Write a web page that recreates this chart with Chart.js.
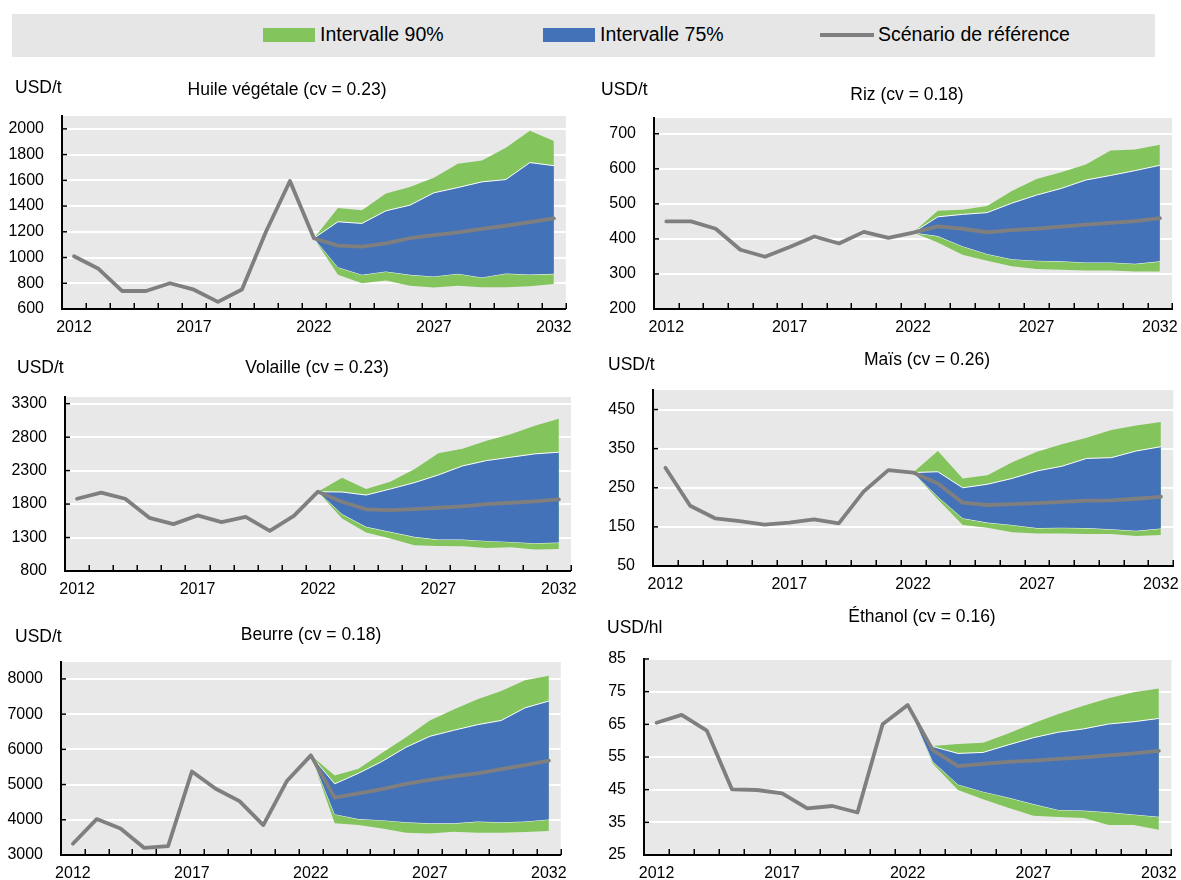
<!DOCTYPE html>
<html><head><meta charset="utf-8">
<script src="https://cdn.jsdelivr.net/npm/chart.js@4.4.0/dist/chart.umd.min.js"></script>
<style>
html,body{margin:0;padding:0;background:#fff;}
body{width:1181px;height:880px;position:relative;overflow:hidden;font-family:'Liberation Sans',Arial,sans-serif;}
.t{position:absolute;white-space:nowrap;color:#000;line-height:1;}
canvas{position:absolute;}
#legend{position:absolute;left:12px;top:14px;width:1143px;height:43px;background:#e6e6e6;}
.sw{position:absolute;}
</style></head><body>
<div id="legend">
  <div class="sw" style="left:251px;top:14px;width:52px;height:14px;background:#84c45c"></div>
  <div class="t" style="left:308px;top:21px;transform:translateY(-50%);font-size:19.5px">Intervalle 90%</div>
  <div class="sw" style="left:531px;top:14px;width:52px;height:14px;background:#4472b8"></div>
  <div class="t" style="left:588px;top:21px;transform:translateY(-50%);font-size:19.5px">Intervalle 75%</div>
  <div class="sw" style="left:808px;top:19px;width:54px;height:4px;background:#7f7f7f"></div>
  <div class="t" style="left:866px;top:21px;transform:translateY(-50%);font-size:19.5px">Scénario de référence</div>
</div>
<script>
const FONT = "'Liberation Sans', Arial, sans-serif";
const GREEN = '#84c45c', BLUE = '#4472b8', GRAY = '#7f7f7f', PLOTBG = '#e8e8e8';

const years = ['2012','2013','2014','2015','2016','2017','2018','2019','2020','2021','2022',
               '2023','2024','2025','2026','2027','2028','2029','2030','2031','2032'];
const xTickLabels = ['2012','2017','2022','2027','2032'];
const hist = () => Array(10).fill(null); // no band before 2022

// Huile végétale
const huileBase = [1010, 915, 740, 740, 800, 750, 655, 752, 1200, 1595, 1150, 1093, 1085, 1110, 1150, 1175, 1196, 1222, 1247, 1275, 1304];
const huileU90 = [1150, 1385, 1368, 1497, 1549, 1621, 1729, 1755, 1853, 1985, 1906];
const huileU75 = [1150, 1278, 1265, 1363, 1407, 1503, 1544, 1588, 1606, 1738, 1714];
const huileL75 = [1150, 925, 866, 892, 866, 853, 874, 845, 876, 868, 873];
const huileL90 = [1150, 866, 801, 822, 781, 768, 781, 770, 770, 776, 795];
const huileTicks = [600, 800, 1000, 1200, 1400, 1600, 1800, 2000];

// Riz
const rizBase = [450, 450, 429, 369, 349, 377, 407, 387, 420, 403, 418, 436, 429, 419, 425, 429, 435, 441, 446, 451, 459];
const rizU90 = [418, 480, 483, 494, 537, 571, 590, 612, 652, 655, 669];
const rizU75 = [418, 463, 470, 475, 502, 525, 544, 568, 581, 595, 610];
const rizL75 = [418, 408, 379, 357, 342, 338, 336, 333, 333, 329, 336];
const rizL90 = [418, 390, 355, 338, 322, 314, 312, 310, 310, 307, 307];
const rizTicks = [200, 300, 400, 500, 600, 700];

// Volaille
const volBase = [1880, 1970, 1880, 1595, 1500, 1630, 1530, 1610, 1400, 1625, 1985, 1835, 1720, 1710, 1725, 1745, 1765, 1800, 1820, 1840, 1870];
const volU90 = [1985, 2195, 2025, 2135, 2320, 2560, 2625, 2745, 2845, 2970, 3075];
const volU75 = [1985, 1980, 1935, 2025, 2120, 2235, 2370, 2450, 2500, 2550, 2575];
const volL75 = [1985, 1650, 1460, 1385, 1310, 1270, 1270, 1250, 1235, 1215, 1225];
const volL90 = [1985, 1585, 1375, 1285, 1185, 1175, 1170, 1145, 1155, 1120, 1130];
const volTicks = [800, 1300, 1800, 2300, 2800, 3300];

// Maïs
const maisBase = [301, 204, 172, 165, 156, 161, 169, 159, 240, 295, 289, 261, 212, 206, 208, 211, 214, 217, 218, 222, 227];
const maisU90 = [289, 344, 274, 282, 315, 342, 361, 378, 398, 409, 418];
const maisU75 = [289, 291, 250, 259, 274, 293, 305, 325, 327, 344, 355];
const maisL75 = [289, 227, 172, 161, 155, 147, 148, 147, 144, 140, 146];
const maisL90 = [289, 220, 155, 148, 136, 133, 133, 132, 132, 127, 129];
const maisTicks = [50, 150, 250, 350, 450];

// Beurre
const beurreBase = [3320, 4020, 3750, 3200, 3250, 5370, 4880, 4530, 3850, 5110, 5830, 4630, 4750, 4870, 5020, 5130, 5230, 5320, 5440, 5550, 5680];
const beurreU90 = [5830, 5260, 5450, 5900, 6340, 6820, 7130, 7420, 7660, 7960, 8090];
const beurreU75 = [5830, 5020, 5320, 5660, 6060, 6370, 6540, 6700, 6820, 7180, 7370];
const beurreL75 = [5830, 4160, 4020, 3990, 3930, 3900, 3900, 3950, 3930, 3950, 4010];
const beurreL90 = [5830, 3900, 3850, 3750, 3630, 3610, 3660, 3630, 3630, 3650, 3680];
const beurreTicks = [3000, 4000, 5000, 6000, 7000, 8000];

// Éthanol
const ethBase = [65.5, 67.9, 63.1, 45.1, 44.9, 43.9, 39.3, 40.0, 38.0, 65.0, 70.9, 57.1, 52.2, 52.9, 53.5, 53.9, 54.4, 54.9, 55.5, 56.1, 56.9];
const ethU90 = [70.9, 58.4, 59.0, 59.4, 62.2, 65.3, 68.2, 70.7, 73.0, 74.8, 76.0];
const ethU75 = [70.9, 58.2, 56.1, 56.4, 58.7, 60.9, 62.6, 63.6, 65.1, 65.8, 66.8];
const ethL75 = [70.9, 53.6, 46.6, 44.4, 42.6, 40.6, 38.8, 38.6, 38.1, 37.4, 36.7];
const ethL90 = [70.9, 52.9, 44.9, 42.1, 39.5, 37.0, 36.6, 36.3, 34.2, 34.2, 32.7];
const ethTicks = [25, 35, 45, 55, 65, 75, 85];

const panels = [
  {title:'Huile végétale (cv = 0.23)', unit:'USD/t', base:huileBase, u90:huileU90, u75:huileU75, l75:huileL75, l90:huileL90, ticks:huileTicks, min:600, max:2100,
   L:62, R:567, T:116, B:309, unitX:15, unitY:88, titleX:287, titleY:90},
  {title:'Riz (cv = 0.18)', unit:'USD/t', base:rizBase, u90:rizU90, u75:rizU75, l75:rizL75, l90:rizL90, ticks:rizTicks, min:200, max:745,
   L:654, R:1173, T:118, B:309, unitX:601, unitY:90, titleX:907, titleY:95},
  {title:'Volaille (cv = 0.23)', unit:'USD/t', base:volBase, u90:volU90, u75:volU75, l75:volL75, l90:volL90, ticks:volTicks, min:800, max:3400,
   L:65, R:572, T:397, B:571, unitX:17, unitY:368, titleX:317, titleY:368},
  {title:'Maïs (cv = 0.26)', unit:'USD/t', base:maisBase, u90:maisU90, u75:maisU75, l75:maisL75, l90:maisL90, ticks:maisTicks, min:50, max:500,
   L:653, R:1174, T:390, B:566, unitX:608, unitY:365, titleX:927, titleY:360},
  {title:'Beurre (cv = 0.18)', unit:'USD/t', base:beurreBase, u90:beurreU90, u75:beurreU75, l75:beurreL75, l90:beurreL90, ticks:beurreTicks, min:3000, max:8480,
   L:61, R:562, T:662, B:855, unitX:15, unitY:637, titleX:311, titleY:635},
  {title:'Éthanol (cv = 0.16)', unit:'USD/hl', base:ethBase, u90:ethU90, u75:ethU75, l75:ethL75, l90:ethL90, ticks:ethTicks, min:25, max:85,
   L:644, R:1172, T:659, B:855, unitX:607, unitY:628, titleX:922, titleY:617}
];

const bgPlugin = {
  id:'plotbg',
  beforeDraw(chart){
    const a = chart.chartArea, c = chart.ctx;
    c.save(); c.fillStyle = PLOTBG; c.fillRect(a.left, a.top, a.right - a.left, a.bottom - a.top); c.restore();
  }
};
const tickPlugin = {
  id:'innerTicks',
  afterDraw(chart){
    const a = chart.chartArea, c = chart.ctx, xs = chart.scales.x, ys = chart.scales.y;
    c.save(); c.strokeStyle = '#000'; c.lineWidth = 1.5;
    const step = xs.getPixelForValue(1) - xs.getPixelForValue(0);
    for (let i = 0; i <= years.length; i++) {
      const x = Math.round(xs.getPixelForValue(i) - step / 2) + 0.25;
      c.beginPath(); c.moveTo(x, a.bottom); c.lineTo(x, a.bottom - 6); c.stroke();
    }
    ys.ticks.forEach(t => {
      const y = ys.getPixelForValue(t.value);
      c.beginPath(); c.moveTo(a.left, y); c.lineTo(a.left + 5, y); c.stroke();
    });
    c.restore();
  }
};

function addText(txt, x, y, size, center){
  const d = document.createElement('div');
  d.className = 't';
  d.textContent = txt;
  d.style.left = x + 'px'; d.style.top = y + 'px'; d.style.fontSize = size + 'px';
  d.style.transform = center ? 'translate(-50%,-50%)' : 'translateY(-50%)';
  document.body.appendChild(d);
}

function band(arr){ return hist().concat(arr); }

panels.forEach(p => {
  const padL = 60, padT = 30, padR = 14, padB = 32;
  const w = p.R - p.L + padL + padR, h = p.B - p.T + padT + padB;
  const cv = document.createElement('canvas');
  cv.width = w; cv.height = h;
  cv.style.left = (p.L - padL) + 'px'; cv.style.top = (p.T - padT) + 'px';
  cv.style.width = w + 'px'; cv.style.height = h + 'px';
  document.body.appendChild(cv);
  addText(p.unit, p.unitX, p.unitY, 17.5, false);
  addText(p.title, p.titleX, p.titleY, 17.5, true);
  const common = {pointRadius:0, pointHoverRadius:0, tension:0, spanGaps:false};
  new Chart(cv, {
    type:'line',
    data:{labels:years, datasets:[
      Object.assign({data:p.base, borderColor:GRAY, borderWidth:3.8, fill:false, borderJoinStyle:'round', borderCapStyle:'round'}, common),
      Object.assign({data:band(p.u75), borderColor:'#ffffff', borderWidth:1, backgroundColor:BLUE, fill:'+1'}, common),
      Object.assign({data:band(p.l75), borderColor:'#ffffff', borderWidth:1, fill:false}, common),
      Object.assign({data:band(p.u90), borderColor:GREEN, borderWidth:0, backgroundColor:GREEN, fill:'+1'}, common),
      Object.assign({data:band(p.l90), borderColor:GREEN, borderWidth:0, fill:false}, common)
    ]},
    options:{
      responsive:false, animation:false, devicePixelRatio:1,
      layout:{padding:{top:padT, right:padR, left:0, bottom:0}},
      plugins:{legend:{display:false}, tooltip:{enabled:false}, title:{display:false}},
      scales:{
        x:{type:'category', offset:true,
           grid:{display:false, drawTicks:false},
           border:{display:true, color:'#000', width:2},
           ticks:{autoSkip:false, maxRotation:0, minRotation:0, padding:9, color:'#000', font:{family:FONT, size:16},
                  callback:(v, i) => xTickLabels.includes(years[i]) ? years[i] : ''},
           afterFit: s => { s.height = padB; }},
        y:{type:'linear', min:p.min, max:p.max,
           afterBuildTicks: s => { s.ticks = p.ticks.map(v => ({value:v})); },
           grid:{color:'#ffffff', lineWidth:2, drawTicks:false},
           border:{display:true, color:'#000', width:2},
           ticks:{padding:18, color:'#000', font:{family:FONT, size:16}, callback: v => String(v)},
           afterFit: s => { s.width = padL; }}
      }
    },
    plugins:[bgPlugin, tickPlugin]
  });
});
</script>
</body></html>
